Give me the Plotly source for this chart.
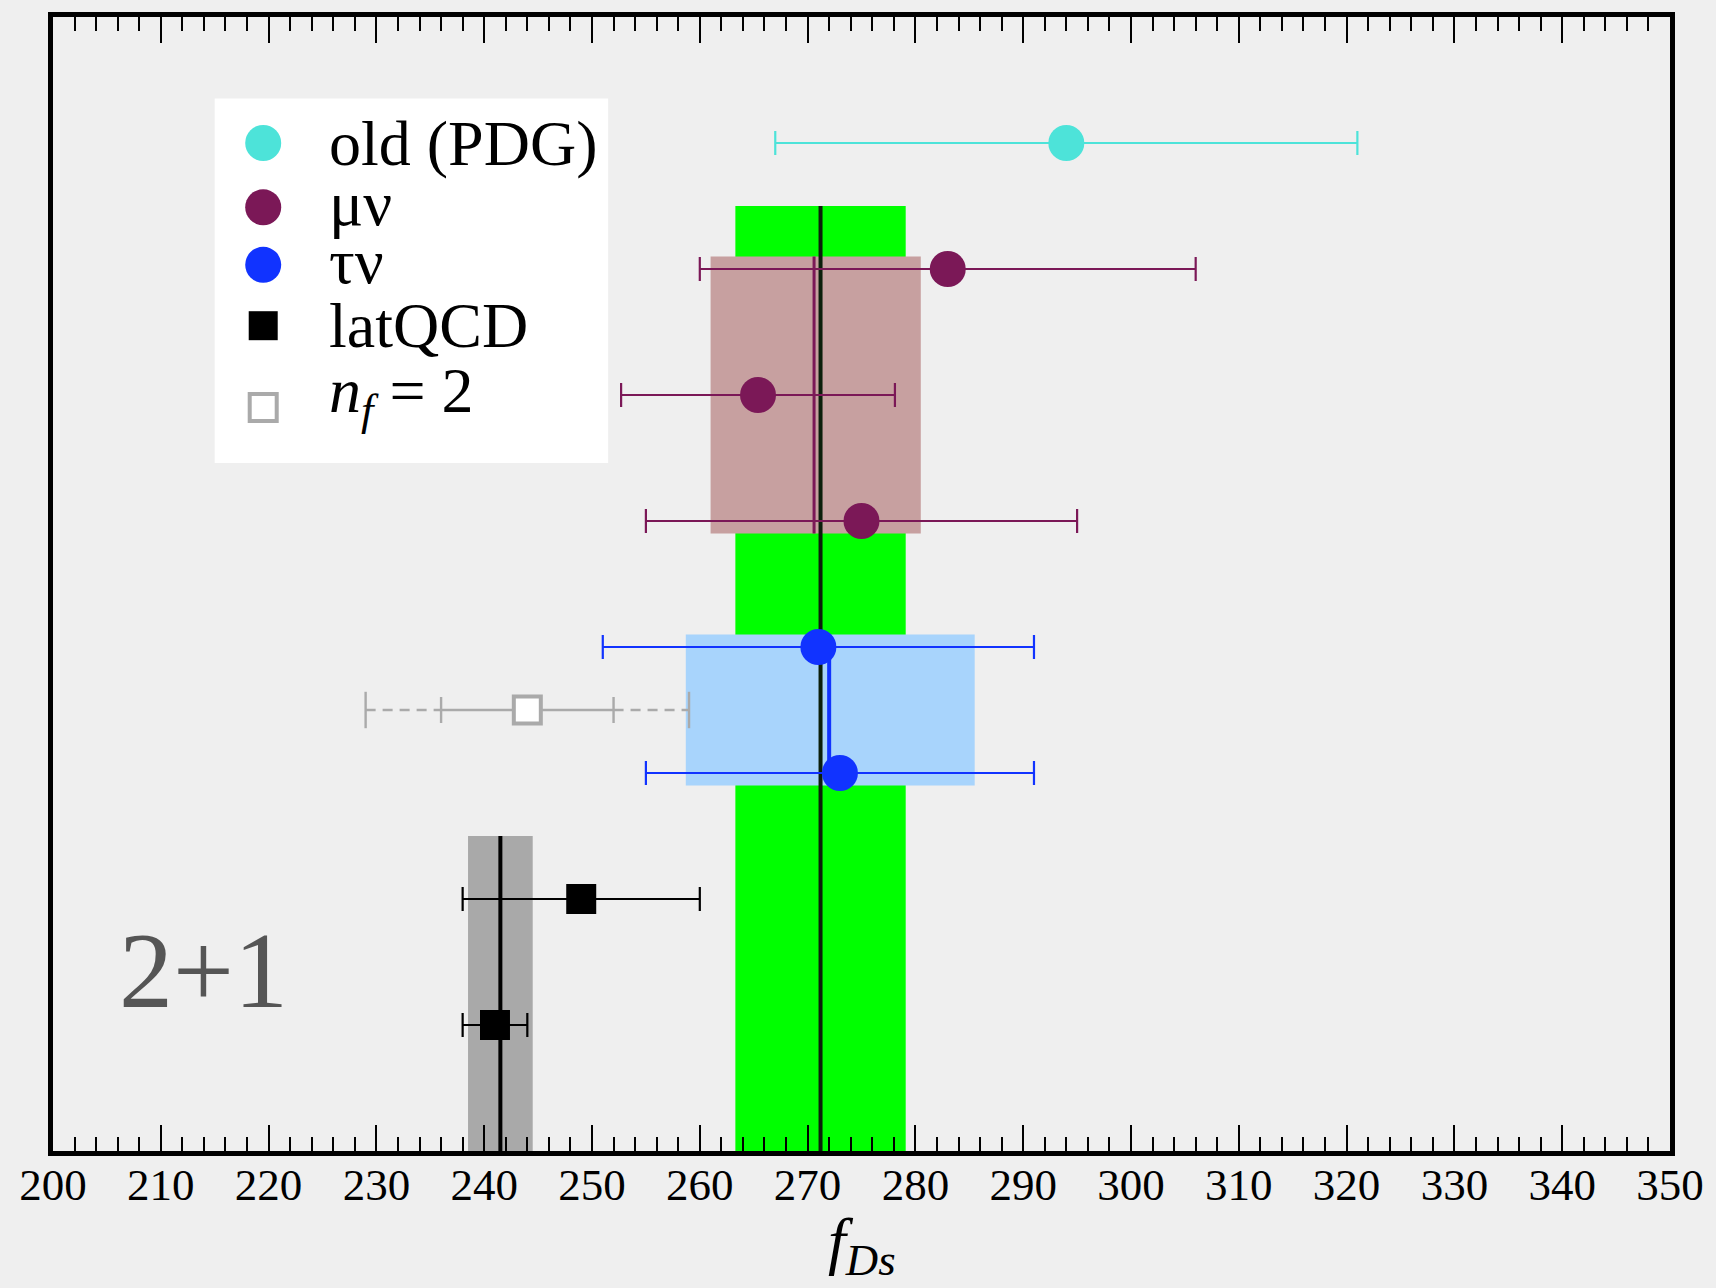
import plotly.graph_objects as go

# ---------------- data ----------------
pdg_x = [294.0]; pdg_err = [27.0]; pdg_row = [0]
mu_x = [283.0, 265.4, 275.0]; mu_err = [23.0, 12.7, 20.0]; mu_row = [1, 2, 3]
tau_x = [271.0, 273.0]; tau_err = [20.0, 18.0]; tau_row = [4, 5]
lat_x = [249.0, 241.0]; lat_err = [11.0, 3.0]; lat_row = [6, 7]
nf2_x = [244.0]; nf2_stat = [8.0]; nf2_tot = [15.0]; nf2_row = [4.5]

# average bands: centre, low, high, row extent of band, row extent of centre line
band_all = dict(c=271.2, lo=263.3, hi=279.1, r0=0.5, r1=8.0, l0=0.5, l1=8.0)
band_mu = dict(c=270.6, lo=261.0, hi=280.5, r0=0.9, r1=3.1, l0=0.9, l1=3.1)
band_tau = dict(c=272.0, lo=258.7, hi=285.5, r0=3.9, r1=5.1, l0=4.0, l1=5.0)
band_lat = dict(c=241.5, lo=238.5, hi=244.5, r0=5.5, r1=8.0, l0=5.5, l1=8.0)

tick_vals = list(range(200, 351, 10))
tick_text = [str(v) for v in tick_vals]

legend_labels = ["old (PDG)", "μν", "τν", "latQCD", "<i>n</i><sub><i>f</i></sub> = 2"]
x_title = "<i>f</i><sub><i>Ds</i></sub>"

# ---------------- styles ----------------
C_PDG = "#4de3d9"
C_MU = "#7b1857"
C_TAU = "#1133ff"
C_LAT = "#000000"
C_NF2 = "#aaaaaa"
SERIF = "Liberation Serif, Times New Roman, serif"

fig = go.Figure()


def rect(b, color):
    fig.add_trace(go.Scatter(
        x=[b["lo"], b["hi"], b["hi"], b["lo"], b["lo"]],
        y=[b["r0"], b["r0"], b["r1"], b["r1"], b["r0"]],
        mode="lines", fill="toself", fillcolor=color,
        line=dict(width=0, color=color), hoverinfo="skip", showlegend=False))


def vline(b, color, width):
    fig.add_trace(go.Scatter(
        x=[b["c"], b["c"]], y=[b["l0"], b["l1"]], mode="lines",
        line=dict(color=color, width=width), hoverinfo="skip", showlegend=False))


rect(band_all, "#00ff00")
rect(band_mu, "#c7a0a0")
rect(band_tau, "#a8d4fc")
rect(band_lat, "#a9a9a9")
vline(band_all, "#0b1f0b", 4)
vline(band_mu, C_MU, 3)
vline(band_tau, C_TAU, 4)
vline(band_lat, "#000000", 4)

# nf=2 point: dashed outer part + caps, solid inner error bar
x0 = nf2_x[0]; s = nf2_stat[0]; t = nf2_tot[0]; r = nf2_row[0]
fig.add_trace(go.Scatter(
    x=[x0 - t, x0 - s, None, x0 + s, x0 + t], y=[r, r, None, r, r],
    mode="lines", line=dict(color=C_NF2, width=2.4, dash="10px,7px"),
    hoverinfo="skip", showlegend=False))
fig.add_trace(go.Scatter(
    x=[x0 - t, x0 + t], y=[r, r], mode="markers",
    marker=dict(symbol="line-ns-open", size=26, color=C_NF2, opacity=1,
                line=dict(color=C_NF2, width=2.4)),
    hoverinfo="skip", showlegend=False))


def points(xs, errs, rows, color, symbol, size, name):
    fig.add_trace(go.Scatter(
        x=xs, y=rows, mode="markers", name=name,
        error_x=dict(type="data", array=errs, color=color, thickness=2.2, width=12),
        marker=dict(symbol=symbol, size=size, color=color, opacity=1, line=dict(width=0)),
        showlegend=False))


points(pdg_x, pdg_err, pdg_row, C_PDG, "circle", 36, "old (PDG)")
points(mu_x, mu_err, mu_row, C_MU, "circle", 36, "μν")
points(tau_x, tau_err, tau_row, C_TAU, "circle", 36, "τν")
points(lat_x, lat_err, lat_row, C_LAT, "square", 30, "latQCD")
fig.add_trace(go.Scatter(
    x=nf2_x, y=nf2_row, mode="markers",
    error_x=dict(type="data", array=nf2_stat, color=C_NF2, thickness=2.4, width=13),
    marker=dict(symbol="square", size=27, color="white", opacity=1,
                line=dict(color=C_NF2, width=4)),
    showlegend=False))

# ---------------- legend (drawn in data space) ----------------
LEG_BOX = dict(lo=215.0, hi=251.5, r0=-0.354, r1=2.54)
leg_rows = [0.0, 0.51, 0.967, 1.45, 2.10]
leg_text_rows = [0.0, 0.48, 0.94, 1.45, 2.0]
leg_mx = 219.5
leg_tx = 225.4
fig.add_trace(go.Scatter(
    x=[LEG_BOX["lo"], LEG_BOX["hi"], LEG_BOX["hi"], LEG_BOX["lo"], LEG_BOX["lo"]],
    y=[LEG_BOX["r0"], LEG_BOX["r0"], LEG_BOX["r1"], LEG_BOX["r1"], LEG_BOX["r0"]],
    mode="lines", fill="toself", fillcolor="white", line=dict(width=0),
    hoverinfo="skip", showlegend=False))
fig.add_trace(go.Scatter(
    x=[leg_mx] * 4, y=leg_rows[:4], mode="markers",
    marker=dict(symbol=["circle", "circle", "circle", "square"], size=[36, 36, 36, 29],
                color=[C_PDG, C_MU, C_TAU, C_LAT], opacity=1, line=dict(width=0)),
    hoverinfo="skip", showlegend=False))
fig.add_trace(go.Scatter(
    x=[leg_mx], y=[leg_rows[4]], mode="markers",
    marker=dict(symbol="square", size=27, color="white", opacity=1,
                line=dict(color=C_NF2, width=4)),
    hoverinfo="skip", showlegend=False))
for lab, ry in zip(legend_labels, leg_text_rows):
    fig.add_annotation(x=leg_tx, y=ry, xref="x", yref="y", text=lab, showarrow=False,
                       xanchor="left", yanchor="middle",
                       font=dict(family=SERIF, size=64, color="black"))

fig.add_annotation(x=214.0, y=6.57, xref="x", yref="y", text="2+1", showarrow=False,
                   xanchor="center", yanchor="middle",
                   font=dict(family=SERIF, size=108, color="#555555"))

# axis title
fig.add_annotation(x=0.5, y=0, xref="paper", yref="paper", text=x_title, showarrow=False,
                   xanchor="center", yanchor="top", yshift=-52,
                   font=dict(family=SERIF, size=64, color="black"))

fig.update_layout(
    width=1716, height=1288,
    margin=dict(l=53, r=36, t=13, b=137),
    paper_bgcolor="#efefef", plot_bgcolor="#efefef",
    showlegend=False,
    font=dict(family=SERIF, color="black"),
)
fig.update_xaxes(
    range=[200, 350], tickvals=tick_vals, ticktext=tick_text,
    ticks="inside", ticklen=26, tickwidth=2, tickcolor="black",
    minor=dict(dtick=2, ticks="inside", ticklen=14, tickwidth=2, tickcolor="black"),
    showline=True, linewidth=5, linecolor="black", mirror="allticks",
    showgrid=False, zeroline=False,
    tickfont=dict(family=SERIF, size=45, color="black"),
    ticklabelstandoff=-10, ticklabeloverflow="allow",
)
fig.update_yaxes(
    range=[8, -1], showticklabels=False, ticks="", showgrid=False, zeroline=False,
    showline=True, linewidth=5, linecolor="black", mirror=True,
)

fig.write_html(
    "out.html",
    config={"displayModeBar": False},
    post_script="document.body.style.margin='0px';document.body.style.overflow='hidden';",
)
